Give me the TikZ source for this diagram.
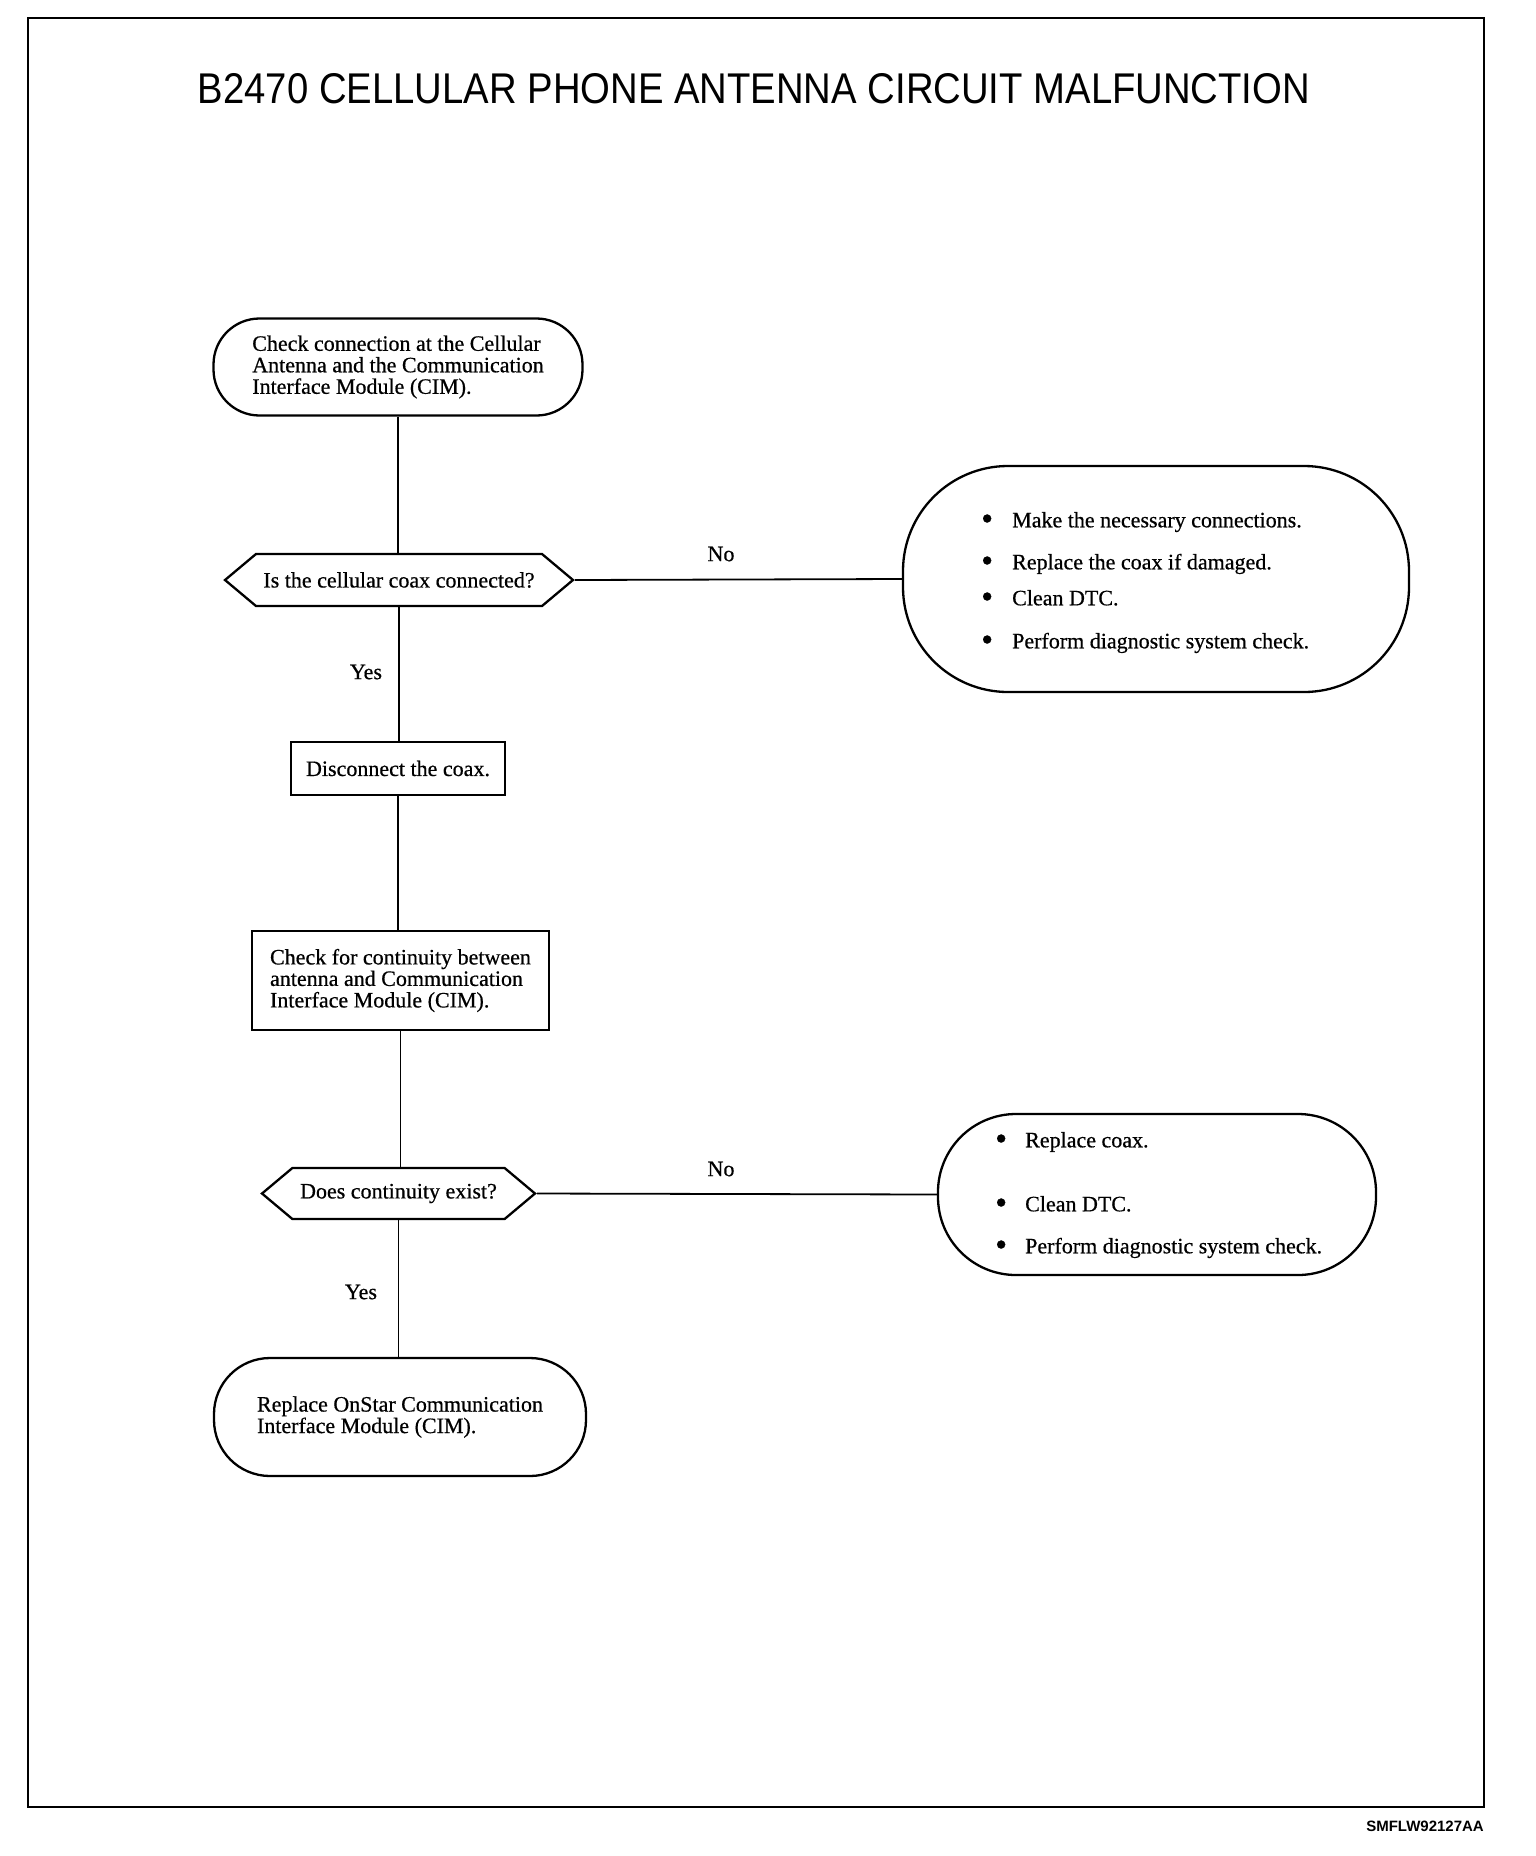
\documentclass[tikz,border=0pt]{standalone}
\usepackage{fontspec}
\setmainfont[FakeBold=0.6]{Liberation Serif}
\newfontfamily\titlefont[FakeStretch=0.89]{Liberation Sans}
\newfontfamily\codefont{Liberation Sans}
\usetikzlibrary{shapes.symbols}
\newcommand{\blt}[1]{\makebox[#1][l]{\raisebox{-2.5pt}{\scalebox{1.55}{\textbullet}}}}
\begin{document}
\begin{tikzpicture}[x=1pt,y=-1pt,
  txt/.style={font=\fontsize{22}{21.5}\selectfont},
  term/.style={draw, line width=2.3pt, align=left, inner sep=0pt, txt},
  proc/.style={draw, rectangle, line width=2.3pt, align=left, inner sep=0pt, txt},
  dec/.style={draw, shape=signal, signal to=west and east, signal pointer angle=80, line width=2.3pt, inner xsep=0pt, inner ysep=0pt, txt},
  conn/.style={line width=1.8pt},
  lbl/.style={txt, inner sep=0pt},
  item/.style={txt, inner sep=0pt, anchor=mid west}
]
\useasboundingbox (0,0) rectangle (1536,1856);
\draw[line width=2pt] (28,18) rectangle (1484,1807);

\node[font=\titlefont\fontsize{43}{50}\selectfont, inner sep=0pt] (title) at (754,89) {B2470 CELLULAR PHONE ANTENNA CIRCUIT MALFUNCTION};
\node[font=\codefont\bfseries\fontsize{15}{18}\selectfont, inner sep=0pt, anchor=east] (code) at (1484,1826) {SMFLW92127AA};

\node[term, rounded corners=46pt, minimum width=369pt, minimum height=97pt] (start) at (398,367)
  {Check connection at the Cellular\\Antenna and the Communication\\Interface Module (CIM).};

\node[dec, minimum width=348pt, minimum height=52pt] (d1) at (399,580) {Is the cellular coax connected?};

\node[term, rounded corners=105pt, minimum width=506pt, minimum height=226pt] (no1) at (1156,579) {};
\node[item] (n1a) at (981,525) {\blt{31pt}Make the necessary connections.};
\node[item] (n1b) at (981,567) {\blt{31pt}Replace the coax if damaged.};
\node[item] (n1c) at (981,603) {\blt{31pt}Clean DTC.};
\node[item] (n1d) at (981,646) {\blt{31pt}Perform diagnostic system check.};

\node[proc, minimum width=214pt, minimum height=53pt] (disc) at (398,768.5) {Disconnect the coax.};

\node[proc, minimum width=297pt, minimum height=99pt] (cont) at (400.5,980.5)
  {Check for continuity between\\antenna and Communication\\Interface Module (CIM).};

\node[dec, minimum width=273pt, minimum height=51pt] (d2) at (398.5,1193.5) {Does continuity exist?};

\node[term, rounded corners=78pt, minimum width=438pt, minimum height=161pt] (no2) at (1157,1194.5) {};
\node[item] (n2a) at (995,1145) {\blt{30pt}Replace coax.};
\node[item] (n2b) at (995,1209) {\blt{30pt}Clean DTC.};
\node[item] (n2c) at (995,1251) {\blt{30pt}Perform diagnostic system check.};

\node[term, rounded corners=56pt, minimum width=372pt, minimum height=118pt] (endb) at (400,1417)
  {Replace OnStar Communication\\Interface Module (CIM).};

\node[lbl] (no1l) at (721,554) {No};
\node[lbl] (yes1l) at (366,672) {Yes};
\node[lbl] (no2l) at (721,1169) {No};
\node[lbl] (yes2l) at (361,1292) {Yes};

\draw[conn] (start.south) -- (start.south |- d1.north);
\draw[conn] (d1.east) -- (no1.west);
\draw[conn] (d1.south) -- (d1.south |- disc.north);
\draw[conn] (disc.south) -- (disc.south |- cont.north);
\draw[conn] (cont.south) -- (cont.south |- d2.north);
\draw[conn] (d2.east) -- (no2.west);
\draw[conn] (d2.south) -- (d2.south |- endb.north);
\end{tikzpicture}
\end{document}
